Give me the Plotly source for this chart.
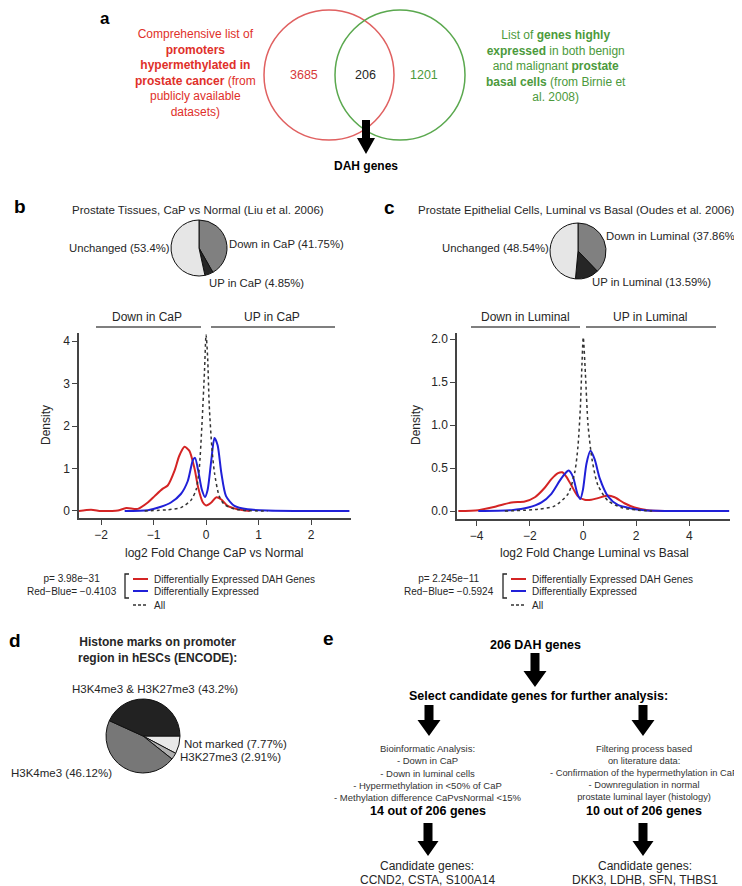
import plotly.graph_objects as go

W, H = 742, 886
FONT = "Liberation Sans, Arial, Helvetica, sans-serif"
INK = "#262626"
RED = "#d42424"
BLUE = "#2020d8"

# ---- data ----
venn_counts = [3685, 206, 1201]

pie_b_labels = ["Down in CaP", "UP in CaP", "Unchanged"]
pie_b_values = [41.75, 4.85, 53.4]
pie_c_labels = ["Down in Luminal", "UP in Luminal", "Unchanged"]
pie_c_values = [37.86, 13.59, 48.54]
pie_d_labels = ["Not marked", "H3K27me3", "H3K4me3", "H3K4me3 & H3K27me3"]
pie_d_values = [7.77, 2.91, 46.12, 43.2]

series_names = ["Differentially Expressed DAH Genes", "Differentially Expressed", "All"]

# panel b: log2 FC CaP vs Normal
b_red_x = [-2.43, -2.19, -2.0, -1.8, -1.68, -1.52, -1.30, -1.11, -0.98, -0.83, -0.73, -0.60, -0.51,
           -0.41, -0.32, -0.22, -0.15, -0.06, 0.0, 0.10, 0.19, 0.29, 0.41, 0.60, 0.83]
b_red_y = [0.0, 0.03, 0.0, 0.0, 0.01, 0.07, 0.05, 0.2, 0.35, 0.52, 0.6, 0.95, 1.3,
           1.51, 1.42, 1.0, 0.55, 0.2, 0.13, 0.2, 0.32, 0.27, 0.12, 0.04, 0.0]
b_blue_x = [-1.55, -1.11, -0.86, -0.67, -0.48, -0.35, -0.25, -0.21, -0.15, -0.08, -0.02, 0.03,
            0.10, 0.16, 0.22, 0.29, 0.38, 0.54, 0.79, 1.17, 1.8, 2.73]
b_blue_y = [0.0, 0.02, 0.1, 0.2, 0.4, 0.7, 1.2, 1.25, 0.95, 0.5, 0.33, 0.5,
            1.2, 1.72, 1.55, 0.9, 0.35, 0.12, 0.04, 0.01, 0.0, 0.0]
b_all_x = [-1.17, -0.73, -0.48, -0.29, -0.19, -0.13, -0.08, -0.03, 0.0, 0.03, 0.06, 0.11,
           0.16, 0.25, 0.35, 0.54, 0.79, 1.17]
b_all_y = [0.0, 0.03, 0.08, 0.25, 0.5, 1.0, 2.0, 3.3, 4.15, 3.6, 2.5, 1.5,
           0.9, 0.35, 0.15, 0.05, 0.01, 0.0]
b_pvalue = "3.98e−31"
b_diff = "−0.4103"

# panel c: log2 FC Luminal vs Basal
c_red_x = [-4.69, -3.94, -3.31, -2.69, -2.19, -1.81, -1.44, -1.19, -0.94, -0.78, -0.63, -0.44,
           -0.19, 0.06, 0.31, 0.56, 0.94, 1.19, 1.56, 1.94, 2.44, 3.44]
c_red_y = [0.0, 0.01, 0.05, 0.1, 0.11, 0.16, 0.27, 0.37, 0.44, 0.45, 0.4, 0.3,
           0.17, 0.13, 0.13, 0.15, 0.18, 0.16, 0.09, 0.04, 0.01, 0.0]
c_blue_x = [-3.94, -2.69, -2.06, -1.56, -1.19, -0.88, -0.69, -0.54, -0.38, -0.21, -0.10, 0.0,
            0.13, 0.28, 0.44, 0.63, 0.94, 1.31, 1.81, 2.31, 3.5, 5.5]
c_blue_y = [0.0, 0.01, 0.04, 0.1, 0.2, 0.35, 0.43, 0.47, 0.4, 0.2, 0.14, 0.25,
            0.55, 0.7, 0.6, 0.38, 0.17, 0.07, 0.03, 0.01, 0.0, 0.0]
c_all_x = [-2.94, -1.69, -1.06, -0.56, -0.31, -0.19, -0.10, -0.04, 0.01, 0.09, 0.19, 0.34,
           0.56, 0.94, 1.44, 2.06, 2.6]
c_all_y = [0.0, 0.02, 0.06, 0.2, 0.45, 0.75, 1.2, 1.7, 2.02, 1.6, 1.0, 0.6,
           0.3, 0.12, 0.04, 0.01, 0.0]
c_pvalue = "2.245e−11"
c_diff = "−0.5924"


def px(x):
    return x / W


def py(y):
    return 1 - y / H


annotations = []
shapes = []


def note(text, x, y, size=12, color=INK, xanchor="center", align="center", angle=0, yanchor="middle"):
    annotations.append(dict(text=text, x=px(x), y=py(y), xref="paper", yref="paper",
                            showarrow=False, xanchor=xanchor, yanchor=yanchor, align=align,
                            textangle=angle, font=dict(family=FONT, size=size, color=color)))


def hline(x0, x1, y, color, width=1.5, dash="solid"):
    shapes.append(dict(type="line", xref="paper", yref="paper", x0=px(x0), x1=px(x1),
                       y0=py(y), y1=py(y), line=dict(color=color, width=width, dash=dash)))


def arrow(cx, top, head, tip, sw, hw):
    pts = [(cx - sw / 2, top), (cx + sw / 2, top), (cx + sw / 2, head), (cx + hw / 2, head),
           (cx, tip), (cx - hw / 2, head), (cx - sw / 2, head)]
    path = "M " + " L ".join(f"{px(a):.5f},{py(b):.5f}" for a, b in pts) + " Z"
    shapes.append(dict(type="path", xref="paper", yref="paper", path=path,
                       fillcolor="black", line=dict(color="black", width=0)))


def circle(cx, cy, r, color):
    shapes.append(dict(type="circle", xref="paper", yref="paper", x0=px(cx - r), x1=px(cx + r),
                       y0=py(cy + r), y1=py(cy - r), line=dict(color=color, width=1.5)))


fig = go.Figure()

# ---- density curves ----
for xs, ys, col, dash, ax in [
    (b_red_x, b_red_y, RED, "solid", ("x", "y")),
    (b_blue_x, b_blue_y, BLUE, "solid", ("x", "y")),
    (b_all_x, b_all_y, "#333333", "3px,3px", ("x", "y")),
    (c_red_x, c_red_y, RED, "solid", ("x2", "y2")),
    (c_blue_x, c_blue_y, BLUE, "solid", ("x2", "y2")),
    (c_all_x, c_all_y, "#333333", "3px,3px", ("x2", "y2")),
]:
    fig.add_trace(go.Scatter(x=xs, y=ys, mode="lines", xaxis=ax[0], yaxis=ax[1],
                             line=dict(color=col, width=2 if dash == "solid" else 1.5,
                                       dash=dash, shape="spline", smoothing=0.7),
                             showlegend=False, hoverinfo="skip"))


# ---- pies ----
def pie(labels, values, colors, cx, cy, r, rotation):
    fig.add_trace(go.Pie(labels=labels, values=values, sort=False, direction="clockwise",
                         rotation=rotation, textinfo="none", showlegend=False, hoverinfo="skip",
                         marker=dict(colors=colors, line=dict(color="#111111", width=1)),
                         domain=dict(x=[px(cx - r), px(cx + r)], y=[py(cy + r), py(cy - r)])))


pie(pie_b_labels, pie_b_values, ["#808080", "#262626", "#e6e6e6"], 191, 240, 28, 0)
pie(pie_c_labels, pie_c_values, ["#808080", "#262626", "#e6e6e6"], 570, 243, 28, 0)
pie(pie_d_labels, pie_d_values, ["#e8e8e8", "#b0b0b0", "#777777", "#222222"], 135, 728, 37, 90)


def pct(label, value):
    return f"{label} ({value}%)"


PL = 11.3
note(pct(pie_b_labels[2], pie_b_values[2]), 164, 240, size=PL, xanchor="right")
note(pct(pie_b_labels[0], pie_b_values[0]), 219, 236, size=PL, xanchor="left")
note(pct(pie_b_labels[1], pie_b_values[1]), 199, 275, size=PL, xanchor="left")
note(pct(pie_c_labels[2], pie_c_values[2]), 543, 240, size=PL, xanchor="right")
note(pct(pie_c_labels[0], pie_c_values[0]), 596, 228, size=PL, xanchor="left")
note(pct(pie_c_labels[1], pie_c_values[1]), 582, 274, size=PL, xanchor="left")
note(pct(pie_d_labels[3], pie_d_values[3]), 147, 681, size=11.5)
note(pct(pie_d_labels[0], pie_d_values[0]), 174, 736, size=11.5, xanchor="left")
note(pct(pie_d_labels[1], pie_d_values[1]), 170, 749, size=11.5, xanchor="left")
note(pct(pie_d_labels[2], pie_d_values[2]), 1, 765, size=11.5, xanchor="left")

# ---- panel a: Venn ----
circle(321, 67, 65, "#e06060")
circle(392, 67, 65, "#5aa84e")
note(str(venn_counts[0]), 296, 67, size=12.5, color="#d63a3a")
note(str(venn_counts[1]), 357, 67, size=12.5, color=INK)
note(str(venn_counts[2]), 416, 67, size=12.5, color="#4c9a3c")
note("Comprehensive list of<br><b>promoters<br>hypermethylated in<br>prostate cancer</b> (from"
     "<br>publicly available<br>datasets)", 188, 65, size=12, color="#e0302a")
note("List of <b>genes highly<br>expressed</b> in both benign<br>and malignant <b>prostate"
     "<br>basal cells</b> (from Birnie et<br>al. 2008)", 548, 58, size=12, color="#4c9a3c")
arrow(358, 112, 130, 146, 8, 18)
note("<b>DAH genes</b>", 358, 158, size=12, color="black")

# ---- panel labels ----
note("<b>a</b>", 97, -1, size=17, color="black", yanchor="top")
note("<b>b</b>", 12, 198, size=19, color="black")
note("<b>c</b>", 381, 199, size=19, color="black")
note("<b>d</b>", 7, 632, size=19, color="black")
note("<b>e</b>", 320, 630, size=19, color="black")

# ---- panel b / c titles and brackets ----
note("Prostate Tissues, CaP vs Normal (Liu et al. 2006)", 190, 202, size=11.5)
note("Prostate Epithelial Cells, Luminal vs Basal (Oudes et al. 2006)", 568, 202, size=11.5)

note("Down in CaP", 139, 309)
note("UP in CaP", 264, 309)
hline(88, 193, 319, "#555555")
hline(203, 327, 319, "#555555")
note("Down in Luminal", 517, 309)
note("UP in Luminal", 642, 309)
hline(463, 572, 319, "#555555")
hline(578, 708, 319, "#555555")

note("Density", 38, 417, angle=-90)
note("Density", 408, 417, angle=-90)
note("log2 Fold Change CaP vs Normal", 207, 545)
note("log2 Fold Change Luminal vs Basal", 586, 545)


# ---- legends under density plots ----
def legend(stat_x, br_x, p, diff):
    note(f"p= {p}<br>Red−Blue= {diff}", stat_x, 577, size=10)
    path = (f"M {px(br_x + 4):.5f},{py(566):.5f} L {px(br_x):.5f},{py(566):.5f} "
            f"L {px(br_x):.5f},{py(590):.5f} L {px(br_x + 4):.5f},{py(590):.5f}")
    shapes.append(dict(type="path", xref="paper", yref="paper", path=path,
                       line=dict(color=INK, width=1.3)))
    lx = br_x + 8
    hline(lx, lx + 15, 571, RED, 2)
    hline(lx, lx + 15, 583, BLUE, 2)
    hline(lx, lx + 15, 597, "#333333", 1.3, "3px,2px")
    for name, yy in zip(series_names, [571, 583, 597]):
        note(name, lx + 19, yy, size=10, xanchor="left")


legend(64, 117, b_pvalue, b_diff)
legend(441, 495, c_pvalue, c_diff)

# ---- panel d ----
note("<b>Histone marks on promoter<br>region in hESCs (ENCODE):</b>", 149, 642, size=12)

# ---- panel e: flow ----
note("<b>206 DAH genes</b>", 527, 637, size=12.5, color="black")
arrow(527, 645, 663, 679, 9, 23)
note("<b>Select candidate genes for further analysis:</b>", 530, 688, size=12.5, color="black")
arrow(421, 697, 712, 728, 9, 23)
arrow(635, 697, 712, 728, 9, 23)
note("Bioinformatic Analysis:<br>- Down in CaP<br>- Down in luminal cells"
     "<br>- Hypermethylation in <50% of CaP<br>- Methylation difference CaPvsNormal <15%",
     420, 765, size=9.5, color="#333333")
note("Filtering process based<br>on literature data:<br>- Confirmation of the hypermethylation in CaP"
     "<br>- Downregulation in normal<br>prostate luminal layer (histology)",
     636, 765, size=9.3, color="#333333")
note("<b>14 out of 206 genes</b>", 420, 803, size=12.5, color="black")
note("<b>10 out of 206 genes</b>", 636, 803, size=12.5, color="black")
arrow(420, 815, 833, 848, 9, 21)
arrow(635, 815, 833, 848, 9, 21)
note("Candidate genes:", 419, 858, size=12)
note("CCND2, CSTA, S100A14", 419, 872, size=12)
note("Candidate genes:", 637, 858, size=12)
note("DKK3, LDHB, SFN, THBS1", 637, 872, size=12)

axis_common = dict(showline=True, linecolor="#444444", linewidth=1.5, ticks="outside",
                   ticklen=5, tickwidth=1.3, tickcolor="#444444", showgrid=False,
                   zeroline=False, tickfont=dict(family=FONT, size=12, color=INK))

fig.update_layout(
    width=W, height=H, margin=dict(l=0, r=0, t=0, b=0),
    paper_bgcolor="white", plot_bgcolor="white", showlegend=False,
    font=dict(family=FONT, color=INK),
    xaxis=dict(domain=[px(71), px(343)], range=[-2.42, 2.76], anchor="y",
               tickvals=[-2, -1, 0, 1, 2], **axis_common),
    yaxis=dict(domain=[py(510), py(325)], range=[-0.165, 4.19], anchor="x",
               tickvals=[0, 1, 2, 3, 4], **axis_common),
    xaxis2=dict(domain=[px(449), px(722)], range=[-4.74, 5.53], anchor="y2",
                tickvals=[-4, -2, 0, 2, 4], **axis_common),
    yaxis2=dict(domain=[py(511), py(325)], range=[-0.093, 2.07], anchor="x2",
                tickvals=[0, 0.5, 1, 1.5, 2], tickformat=".1f", **axis_common),
    annotations=annotations,
    shapes=shapes,
)

fig.write_html("out.html")
